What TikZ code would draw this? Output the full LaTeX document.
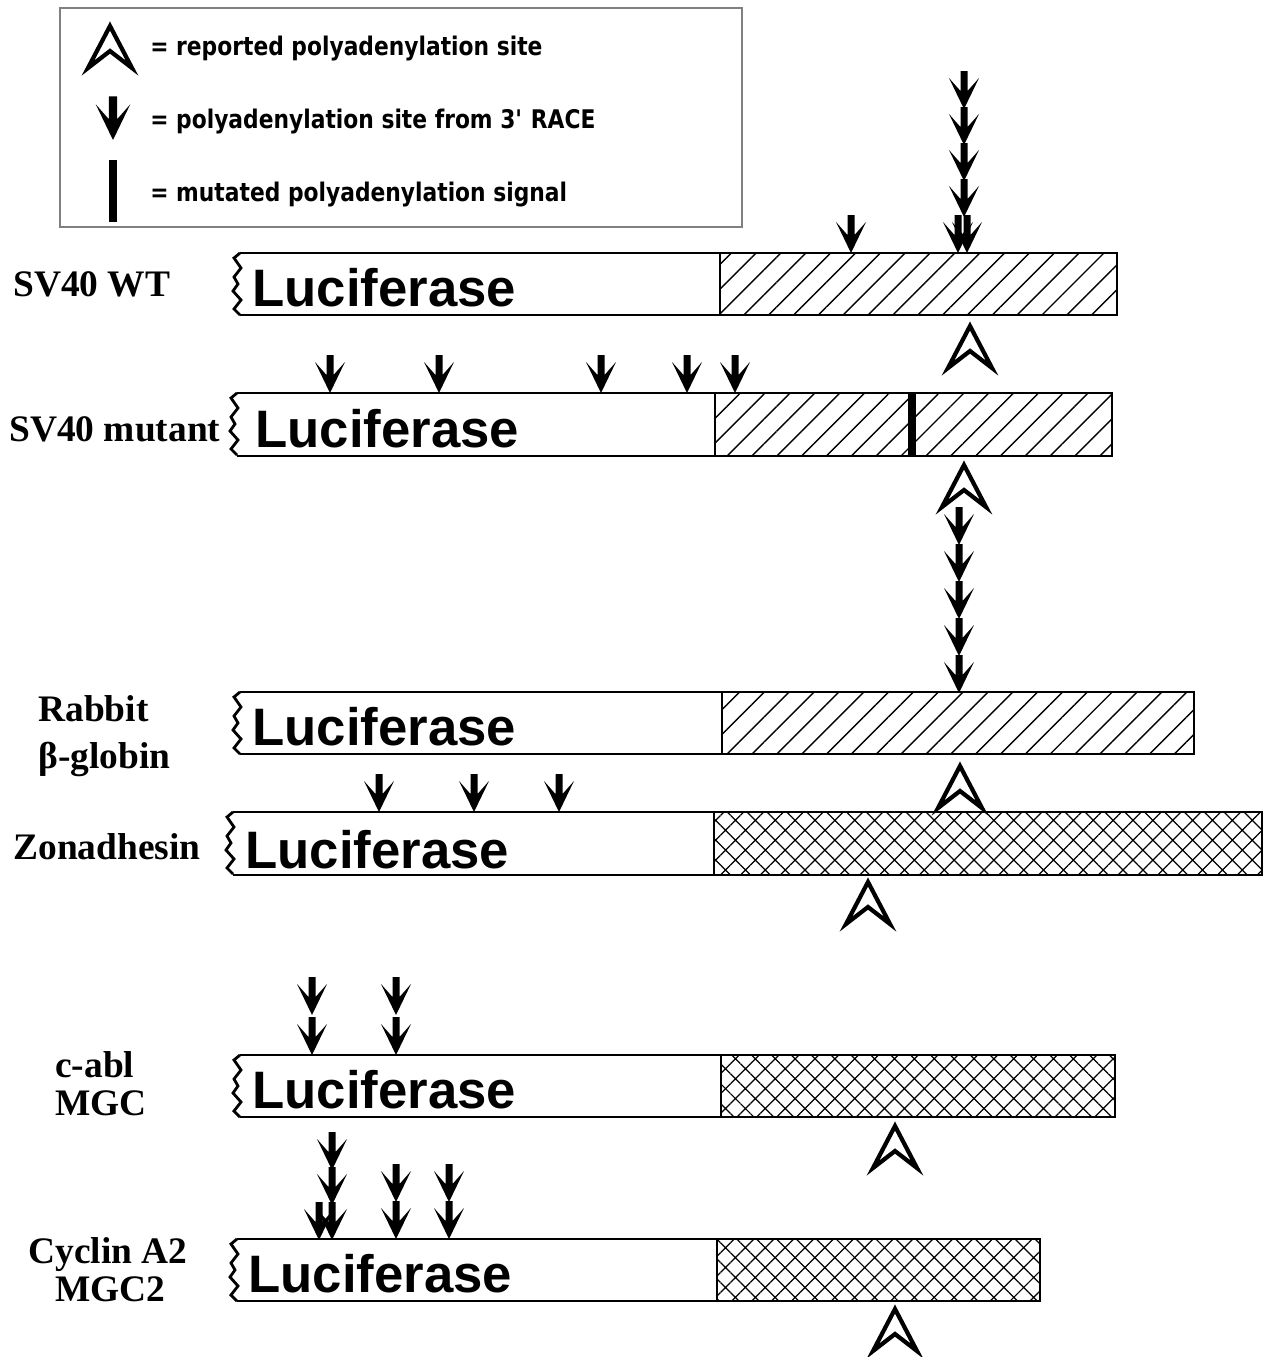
\documentclass[tikz,border=0pt]{standalone}
\usepackage{fontspec}
\setmainfont{Liberation Serif}
\newfontfamily\lucfont{Liberation Sans}
\newfontfamily\keyfont[FakeStretch=0.85]{DejaVu Sans}
\usetikzlibrary{patterns.meta}

\begin{document}
\begin{tikzpicture}[x=0.02cm, y=-0.02cm,
	lab/.style={anchor=base west, inner sep=0pt, font=\fontsize{21.3pt}{24pt}\selectfont\bfseries},
	luc/.style={anchor=base west, inner sep=0pt, font=\lucfont\fontsize{30pt}{36pt}\selectfont\bfseries},
	key/.style={anchor=base west, inner sep=0pt, font=\keyfont\fontsize{14.6pt}{18pt}\selectfont\bfseries},
	frame/.style={line width=1.1pt},
	wavy/.style={line width=1.6pt, line join=miter},
	lines/.style={pattern={Lines[angle=45,distance=10pt,line width=0.8pt]}},
	cross/.style={pattern={Hatch[angle=45,distance=8pt,line width=0.7pt]}},
	pics/race/.style={code={
		\fill (0,0) -- (15,-31) -- (3.5,-18) -- (3.5,-38) -- (-3.5,-38) -- (-3.5,-18) -- (-15,-31) -- cycle;
	}},
	pics/reported/.style={code={
		\draw[line width=2.4pt, line join=miter] (0,5) -- (22,47) -- (0,30) -- (-22,47) -- cycle;
	}},
	pics/cut/.style={code={
		\draw[wavy] (0,0) -- (-6,5) -- (1,15) -- (-6,24) -- (-2,31) -- (-7,38) -- (1,47) -- (-6,56) -- (0,62);
	}}
]
	\useasboundingbox (0,0) rectangle (1263,1357);

	% key
	\draw[gray, line width=0.6pt] (60,8) rectangle (742,227);
	\pic at (110,21) {reported};
	\node[key] (k1) at (150,55) {= reported polyadenylation site};
	\pic[scale=1.15] at (113,140) {race};
	\node[key] (k2) at (150,128) {= polyadenylation site from 3\textquotesingle{} RACE};
	\fill (109,160) rectangle (117,222);
	\node[key] (k3) at (150,201) {= mutated polyadenylation signal};

	% SV40 WT
	\node[lab] (wt) at (13,296) {SV40 WT};
	\draw[frame, lines] (720,253) rectangle (1117,315);
	\draw[frame] (240,253) -- (720,253) (240,315) -- (720,315);
	\pic at (240,253) {cut};
	\node[luc] (luc1) at (252,306) {Luciferase};
	\pic at (851,253) {race};
	\foreach \t in {109,145,181,217} \pic at (964,\t) {race};
	\pic at (958,253) {race};
	\pic at (967,253) {race};
	\pic at (970,321) {reported};

	% SV40 mutant
	\node[lab] (mut) at (9,441) {SV40 mutant};
	\draw[frame, lines] (715,393) rectangle (1112,456);
	\draw[frame] (237,393) -- (715,393) (237,456) -- (715,456);
	\pic at (237,393) {cut};
	\fill (908,393) rectangle (916,456);
	\node[luc] (luc2) at (255,447) {Luciferase};
	\foreach \x in {330,439,601,687,735} \pic at (\x,393) {race};
	\pic at (964,460) {reported};
	\foreach \t in {545,582,619,656,693} \pic at (959,\t) {race};

	% Rabbit beta-globin
	\node[lab] (rab) at (38,721) {Rabbit};
	\node[lab] (glob) at (38,768) {β-globin};
	\draw[frame, lines] (722,692) rectangle (1194,754);
	\draw[frame] (240,692) -- (722,692) (240,754) -- (722,754);
	\pic at (240,692) {cut};
	\node[luc] (luc3) at (252,745) {Luciferase};
	\pic at (960,761) {reported};

	% Zonadhesin
	\node[lab] (zon) at (13,859) {Zonadhesin};
	\draw[frame, cross] (714,812) rectangle (1262,875);
	\draw[frame] (233,812) -- (714,812) (233,875) -- (714,875);
	\pic at (233,812) {cut};
	\node[luc] (luc4) at (245,868) {Luciferase};
	\foreach \x in {379,474,559} \pic at (\x,812) {race};
	\pic at (868,877) {reported};

	% c-abl MGC
	\node[lab] (abl) at (55,1077) {c-abl};
	\node[lab] (mgc) at (55,1115) {MGC};
	\draw[frame, cross] (721,1055) rectangle (1115,1117);
	\draw[frame] (240,1055) -- (721,1055) (240,1117) -- (721,1117);
	\pic at (240,1055) {cut};
	\node[luc] (luc5) at (252,1108) {Luciferase};
	\foreach \x in {312,396} {
		\pic at (\x,1015) {race};
		\pic at (\x,1055) {race};
	}
	\pic at (895,1121) {reported};

	% Cyclin A2 MGC2
	\node[lab] (cyc) at (28,1263) {Cyclin A2};
	\node[lab] (mgc2) at (55,1301) {MGC2};
	\draw[frame, cross] (717,1239) rectangle (1040,1301);
	\draw[frame] (237,1239) -- (717,1239) (237,1301) -- (717,1301);
	\pic at (237,1239) {cut};
	\node[luc] (luc6) at (248,1292) {Luciferase};
	\pic at (319,1240) {race};
	\foreach \t in {1170,1205,1240} \pic at (332,\t) {race};
	\foreach \x in {396,449} {
		\pic at (\x,1202) {race};
		\pic at (\x,1239) {race};
	}
	\pic at (895,1304) {reported};
\end{tikzpicture}
\end{document}
